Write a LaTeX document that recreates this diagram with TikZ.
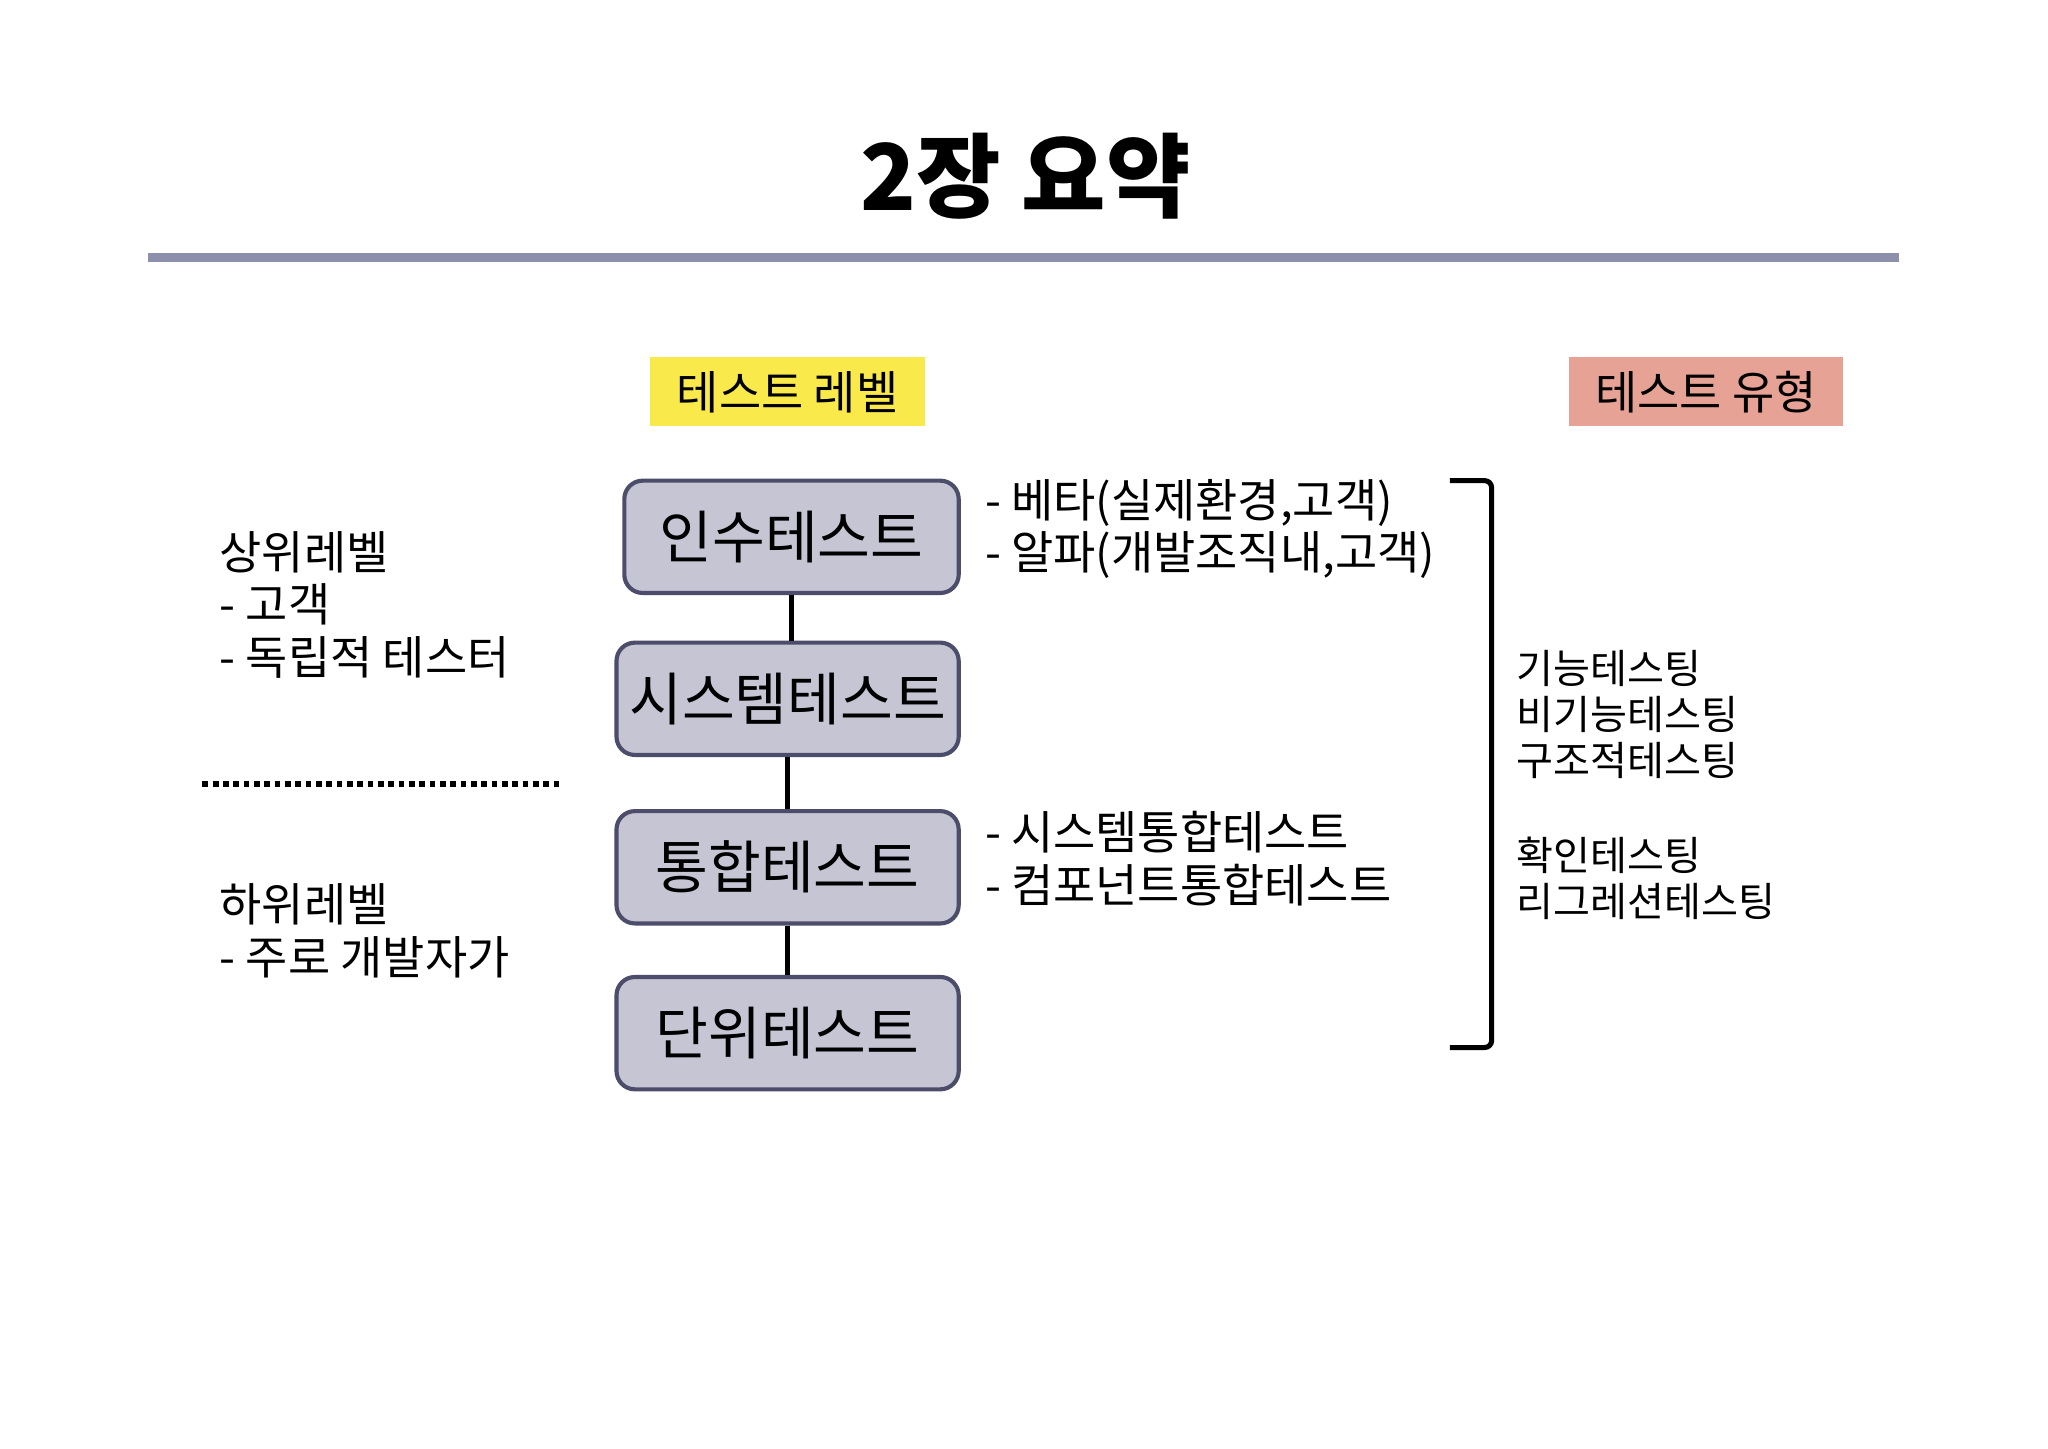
\documentclass[tikz,border=0pt]{standalone}
\usepackage{fontspec}
\setmainfont{Noto Sans CJK KR}
\begin{document}
\begin{tikzpicture}[x=0.02cm,y=-0.02cm,
  lvl/.style={draw=black!70!blue!40!gray, line width=1.8pt, fill=lv, rounded corners=8pt, font=\fontsize{25}{30}\selectfont},
  side/.style={anchor=west, font=\fontsize{20}{24}\selectfont, align=left},
  typ/.style={anchor=west, font=\fontsize{17.5}{21}\selectfont},
  tag/.style={font=\fontsize{20}{24}\selectfont, inner sep=0pt}]
\definecolor{lv}{HTML}{C5C5D4}
\definecolor{ln}{HTML}{8C90AA}
\definecolor{yl}{HTML}{F9E94A}
\definecolor{pk}{HTML}{E5A295}
\useasboundingbox (0,0) rectangle (1568,1109);
\node[font=\bfseries\fontsize{40}{48}\selectfont] (title) at (785,135) {2장 요약};
\draw[ln, line width=4pt] (113,197) coordinate (l1) -- (1454,197) coordinate (l2);
\node[tag, fill=yl, minimum width=210*0.02cm, minimum height=53*0.02cm] (t1) at (603,300) {테스트 레벨};
\node[tag, fill=pk, minimum width=210*0.02cm, minimum height=53*0.02cm] (t2) at (1306,300) {테스트 유형};
\node[lvl, minimum width=256*0.02cm, minimum height=86*0.02cm] (a) at (606,411) {인수테스트};
\node[lvl, minimum width=262*0.02cm, minimum height=86*0.02cm] (s) at (603,535) {시스템테스트};
\node[lvl, minimum width=262*0.02cm, minimum height=86*0.02cm] (i) at (603,664) {통합테스트};
\node[lvl, minimum width=262*0.02cm, minimum height=86*0.02cm] (u) at (603,791) {단위테스트};
\draw[line width=2pt] (a.south) -- (a.south|-s.north);
\draw[line width=2pt] (s.south) -- (s.south|-i.north);
\draw[line width=2pt] (i.south) -- (i.south|-u.north);
\node[side] (h1) at (162,423) {상위레벨};
\node[side] (h2) at (162,463) {- 고객};
\node[side] (h3) at (162,503) {- 독립적 테스터};
\draw[line width=2.5pt, dotted] (155,600) coordinate (d1) -- (428,600) coordinate (d2);
\node[side] (w1) at (162,692) {하위레벨};
\node[side] (w2) at (162,733) {- 주로 개발자가};
\node[side] (m1) at (748,385) {- 베타(실제환경,고객)};
\node[side] (m2) at (748,425) {- 알파(개발조직내,고객)};
\node[side] (m3) at (748,637) {- 시스템통합테스트};
\node[side] (m4) at (748,678) {- 컴포넌트통합테스트};
\draw[line width=2.2pt, rounded corners=3pt] (1110,368) coordinate (b1) -- (1142,368) -- (1142,802) -- (1110,802) coordinate (b2);
\node[typ] (r1) at (1155,512) {기능테스팅};
\node[typ] (r2) at (1155,547) {비기능테스팅};
\node[typ] (r3) at (1155,582) {구조적테스팅};
\node[typ] (r4) at (1155,655) {확인테스팅};
\node[typ] (r5) at (1155,690) {리그레션테스팅};
\end{tikzpicture}
\end{document}
